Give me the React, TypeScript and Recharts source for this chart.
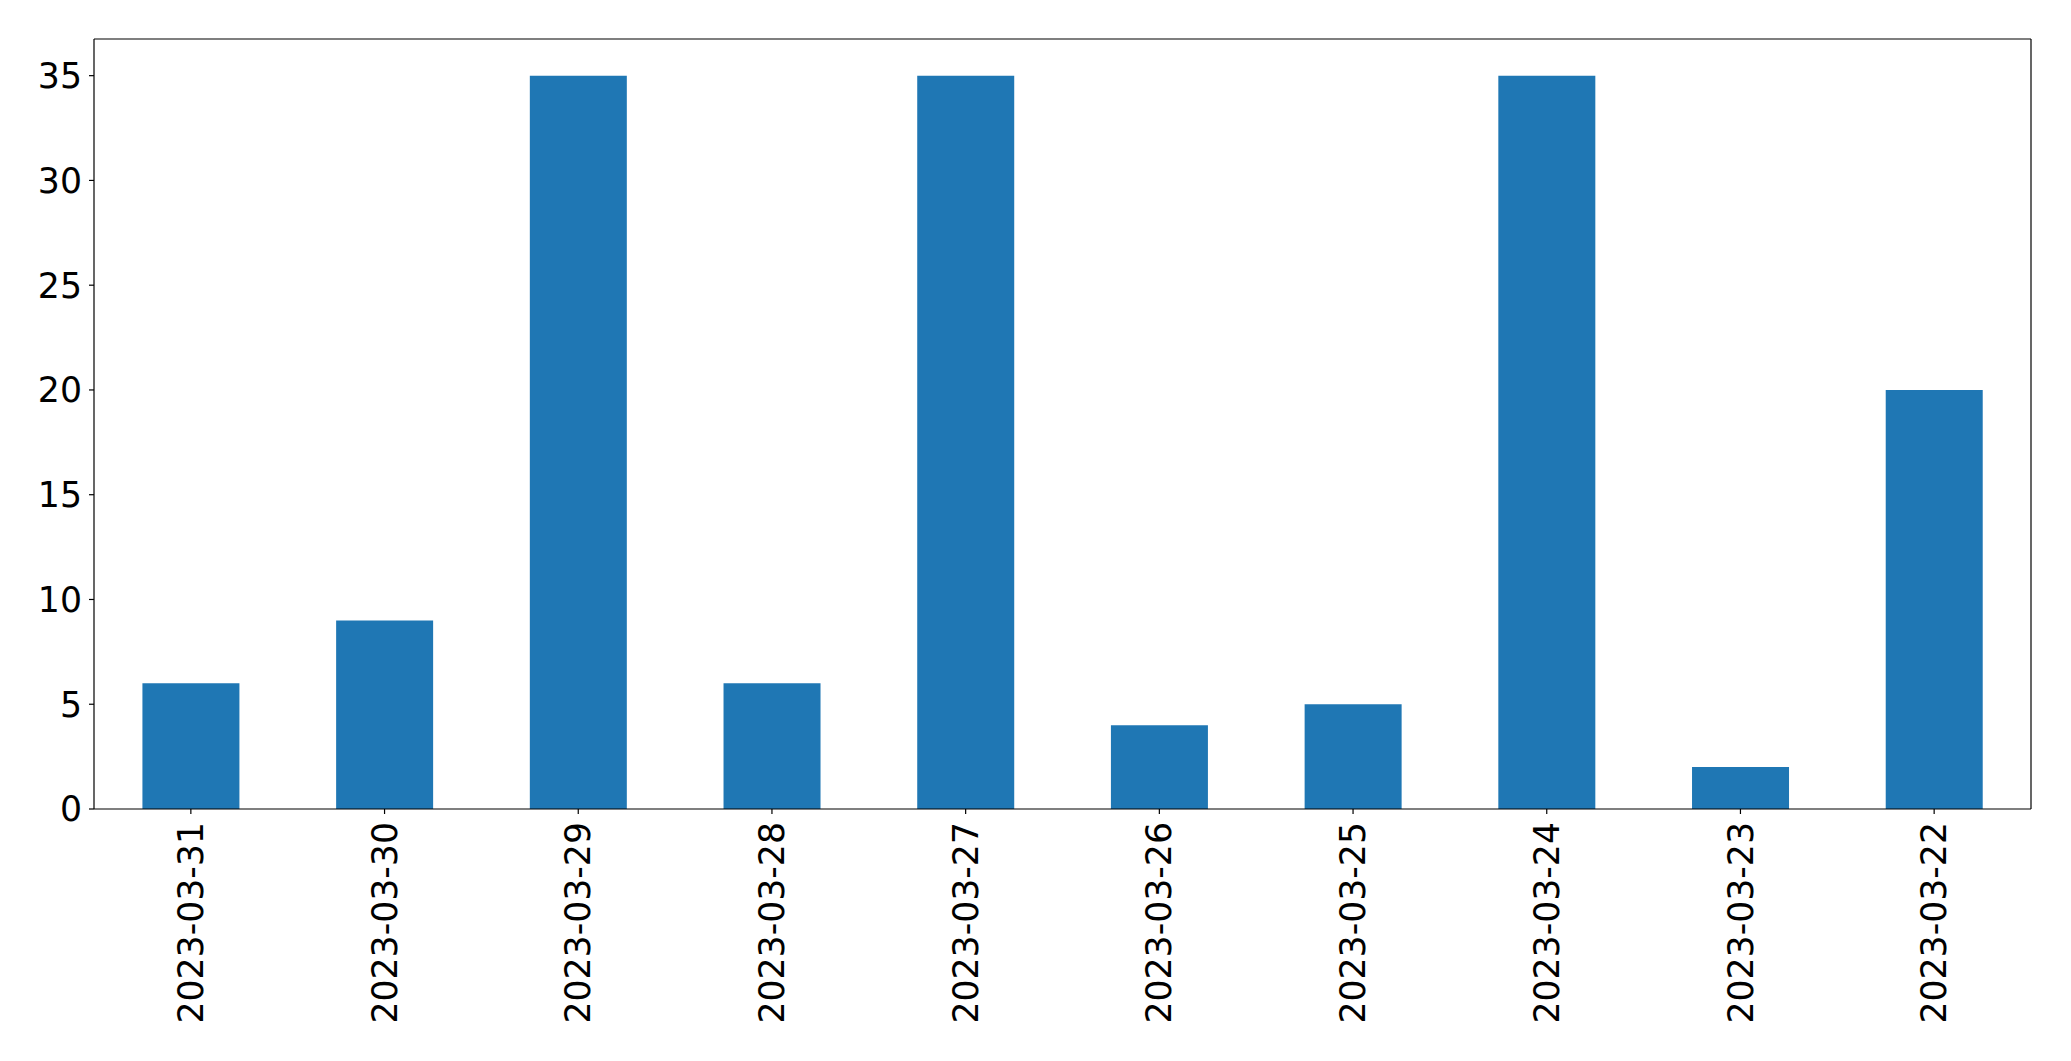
import { Bar, BarChart, XAxis, YAxis } from "recharts";

const days = [
  "2023-03-31",
  "2023-03-30",
  "2023-03-29",
  "2023-03-28",
  "2023-03-27",
  "2023-03-26",
  "2023-03-25",
  "2023-03-24",
  "2023-03-23",
  "2023-03-22",
];
const counts = [6, 9, 35, 6, 35, 4, 5, 35, 2, 20];
const yTicks = [0, 5, 10, 15, 20, 25, 30, 35];

const data = days.map((day, i) => ({ day, count: counts[i] }));

const FONT = "DejaVu Sans";
const FS = 34.7;
const LINE = { stroke: "#000", strokeWidth: 1.2 };

const DateTick = (props: any) => {
  const { x, y, payload } = props;
  const ty = y + 6;
  return (
    <text
      x={x}
      y={ty}
      transform={`rotate(-90, ${x}, ${ty})`}
      textAnchor="end"
      dy="0.35em"
      fontFamily={FONT}
      fontSize={FS}
      fill="#000"
    >
      {payload.value}
    </text>
  );
};

const App: React.FC = () => {
  return (
    <div style={{ position: "absolute", left: 0, top: 0, background: "#fff" }}>
      <BarChart
        width={2071}
        height={1061}
        data={data}
        margin={{ top: 38, right: 39, bottom: 0, left: 0 }}
        barCategoryGap="25%"
      >
        <XAxis
          dataKey="day"
          height={252}
          interval={0}
          tickSize={5}
          tick={<DateTick />}
          axisLine={LINE}
          tickLine={LINE}
        />
        <XAxis
          xAxisId="top"
          dataKey="day"
          orientation="top"
          height={1}
          tick={false}
          tickLine={false}
          axisLine={LINE}
        />
        <YAxis
          width={94}
          domain={[0, 36.75]}
          ticks={yTicks}
          interval={0}
          tickSize={5}
          tickMargin={7}
          axisLine={LINE}
          tickLine={LINE}
          allowDataOverflow
          tick={{ fill: "#000", fontFamily: FONT, fontSize: FS }}
        />
        <YAxis
          yAxisId="right"
          orientation="right"
          width={1}
          domain={[0, 36.75]}
          tick={false}
          tickLine={false}
          axisLine={LINE}
        />
        <Bar dataKey="count" fill="#1f77b4" isAnimationActive={false} />
      </BarChart>
    </div>
  );
};

export default App;
